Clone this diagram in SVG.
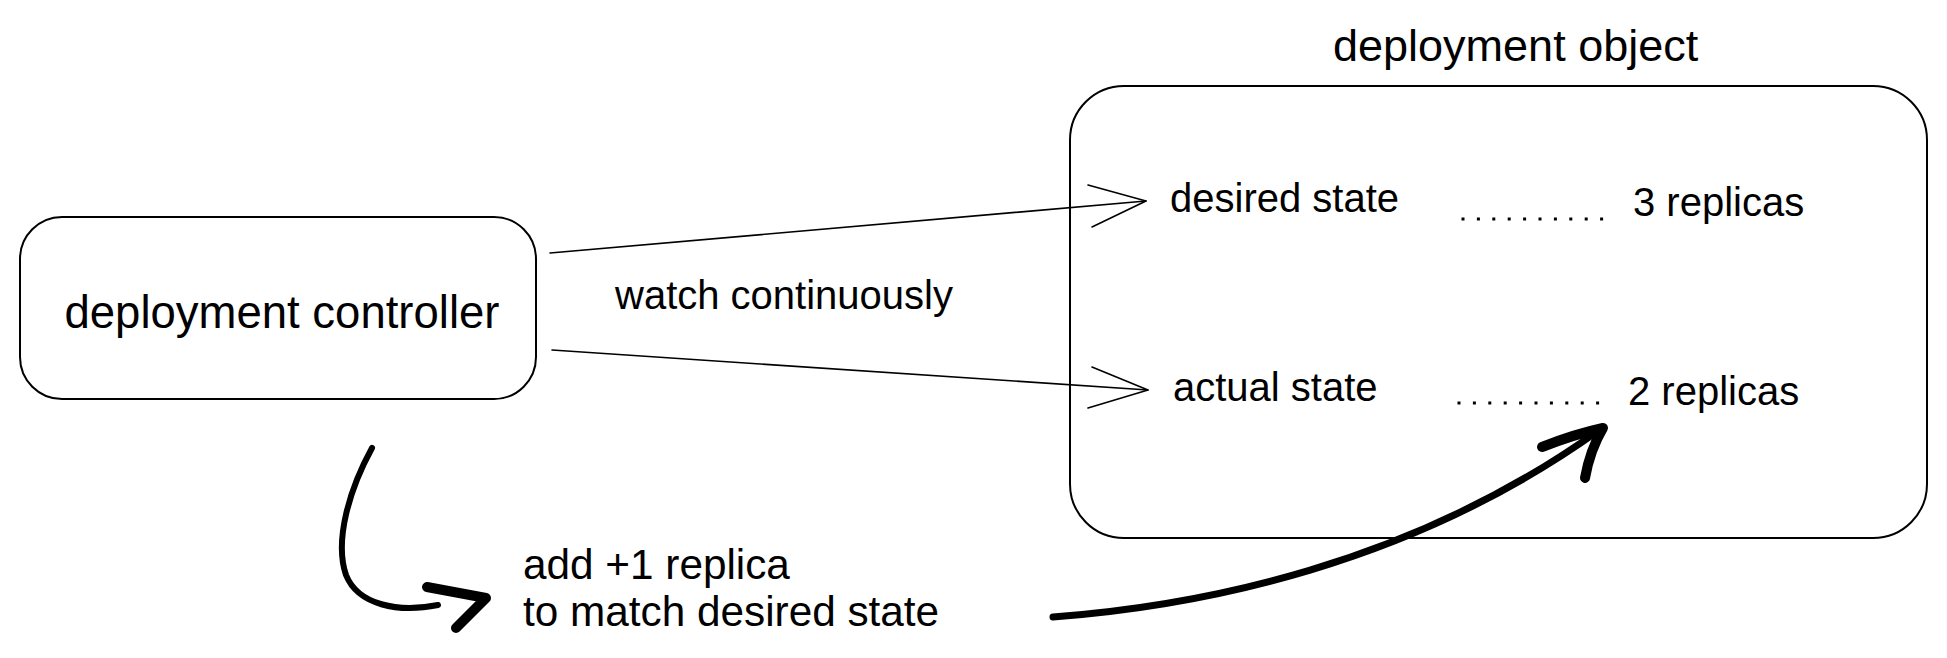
<svg xmlns="http://www.w3.org/2000/svg" width="1947" height="658" viewBox="0 0 1947 658">
<style>
.box{fill:#fff;stroke:#000;stroke-width:2}
.t{font-family:"Liberation Sans",Arial,Helvetica,sans-serif;fill:#000}
.thin{fill:none;stroke:#000;stroke-width:1.6;stroke-linecap:round;stroke-linejoin:round}
.dots{fill:none;stroke:#000;stroke-width:3;stroke-dasharray:3 12.4}
.brush{fill:none;stroke:#000;stroke-linecap:round;stroke-linejoin:round}
</style>
<rect width="1947" height="658" fill="#fff"/>
<g id="deployment-object">
  <rect class="box" x="1070" y="86" width="857" height="452" rx="54" ry="54"/>
  <text class="t" x="1333" y="61" font-size="45">deployment object</text>
  <text class="t" x="1170" y="212" font-size="40">desired state</text>
  <path class="dots" d="M1461.5,219 H1605"/>
  <text class="t" x="1633" y="216" font-size="40">3 replicas</text>
  <text class="t" x="1173" y="401" font-size="40">actual state</text>
  <path class="dots" d="M1457.5,403 H1601"/>
  <text class="t" x="1628" y="405" font-size="40">2 replicas</text>
</g>
<g id="deployment-controller">
  <rect class="box" x="20" y="217" width="516" height="182" rx="42" ry="42"/>
  <text class="t" x="282" y="328" font-size="45.5" text-anchor="middle">deployment controller</text>
</g>
<g id="connectors">
  <path class="thin" d="M550,253 L1146,201"/>
  <path class="thin" d="M1088,185 L1146,201 L1092,227"/>
  <path class="thin" d="M552,350 L1148,390"/>
  <path class="thin" d="M1092,367 L1148,390 L1088,408"/>
  <text class="t" x="615" y="309" font-size="40">watch continuously</text>
  <path class="brush" stroke-width="6" d="M372,448 C350,488 334,540 346,575 C358,605 398,613 438,605"/>
  <path class="brush" stroke-width="10" d="M427,587 L486,598 L456,628"/>
  <path class="brush" stroke-width="7" d="M1053,617 C1200,606 1410,565 1598,431"/>
  <path class="brush" stroke-width="10" d="M1542,447 Q1575,434 1603,428 Q1590,450 1585,478"/>
  <text class="t" x="523" y="579" font-size="42.3">add +1 replica</text>
  <text class="t" x="523" y="626" font-size="42.3">to match desired state</text>
</g>
</svg>
